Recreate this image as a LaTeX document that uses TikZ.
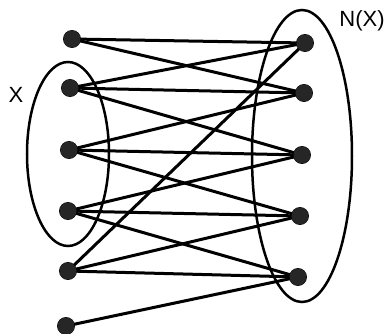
\documentclass[tikz,border=0pt]{standalone}
\usepackage{fontspec}
\setmainfont{Liberation Sans}
\begin{document}
\begin{tikzpicture}[x=1pt,y=-1pt,
  vtx/.style={circle,fill=black!85,draw=black,line width=0.8pt,minimum size=17pt,inner sep=0pt},
  edge/.style={line width=3pt,black},
  setring/.style={line width=2.5pt,black},
  lab/.style={font=\fontsize{22}{22}\selectfont,inner sep=0pt}]
\useasboundingbox (0,0) rectangle (392,334);
\draw[setring] (68,154) ellipse [x radius=41, y radius=92];
\draw[setring] (302,156) ellipse [x radius=50, y radius=146];
\node[vtx] (L1) at (72,39) {};
\node[vtx] (L2) at (70,88) {};
\node[vtx] (L3) at (69,150) {};
\node[vtx] (L4) at (68,211) {};
\node[vtx] (L5) at (68,271) {};
\node[vtx] (L6) at (66,326) {};
\node[vtx] (R1) at (305,43) {};
\node[vtx] (R2) at (304,93) {};
\node[vtx] (R3) at (302,155) {};
\node[vtx] (R4) at (300,216) {};
\node[vtx] (R5) at (298,277) {};
\foreach \a/\b in {L1/R1,L1/R2,L2/R1,L2/R2,L2/R3,L3/R2,L3/R3,L3/R4,L4/R3,L4/R4,L4/R5,L5/R1,L5/R4,L5/R5,L6/R5}
  \draw[edge] (\a.center) -- (\b.center);
\foreach \n in {L1,L2,L3,L4,L5,L6,R1,R2,R3,R4,R5}
  \fill[black!85] (\n) circle (8.5pt);
\node[lab] (X) at (16,95) {X};
\node[lab] (NX) at (362,21) {N(X)};
\end{tikzpicture}
\end{document}
